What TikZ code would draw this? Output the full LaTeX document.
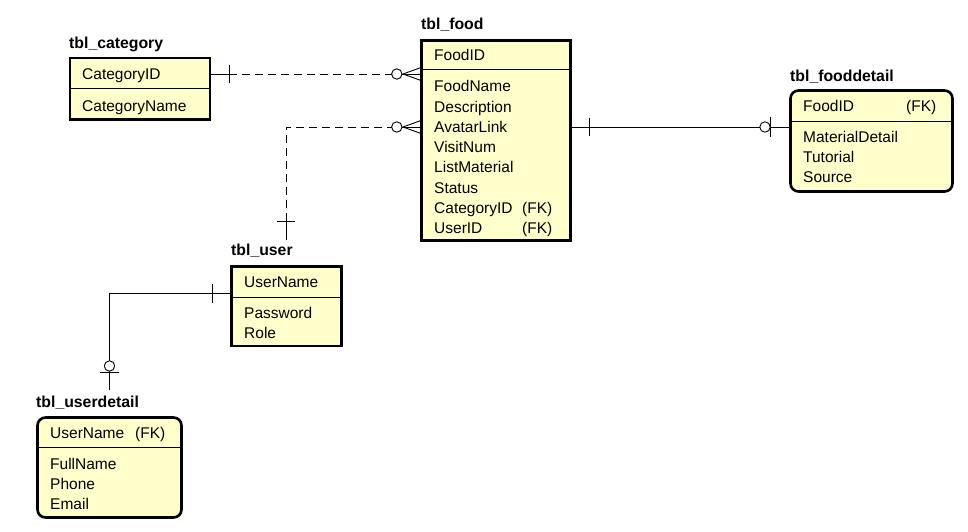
\documentclass[tikz,border=0pt]{standalone}
\usepackage{fontspec}
\setmainfont{Liberation Sans}
\definecolor{tblfill}{RGB}{255,255,204}
\begin{document}
\begin{tikzpicture}[x=1pt,y=-1pt,
  tbox/.style={draw=black, line width=2.6pt, fill=tblfill, rectangle, inner sep=0pt, outer sep=0pt, anchor=north west},
  sep/.style={line width=0.9pt},
  ttl/.style={anchor=base west, inner sep=0pt, font=\fontsize{15.8}{18}\selectfont\bfseries},
  fld/.style={anchor=base west, inner sep=0pt, font=\fontsize{15.5}{18}\selectfont},
  rel/.style={line width=0.9pt},
  dsh/.style={rel, dash pattern=on 8pt off 5pt},
  oring/.style={rel, fill=white},
  ]
\useasboundingbox[fill=white] (0,0) rectangle (968,532);

% ---------- connectors ----------
% category -- food (dashed, one to zero-or-many)
\draw[rel] (210,74) -- (229,74);
\draw[rel] (229,65) -- (229,83);
\draw[dsh] (229,74) -- (391.5,74);
\draw[rel] (402,74) -- (421,74);
\draw[rel] (421,67.5) -- (403,74) -- (421,80.5);
\draw[oring] (396.8,74) circle[radius=5.2pt];

% user -- food (dashed, one to zero-or-many)
\draw[rel] (286,240) -- (286,221);
\draw[rel] (277,221) -- (295,221);
\draw[dsh] (286,221) -- (286,127) -- (391.5,127);
\draw[rel] (402,127) -- (421,127);
\draw[rel] (421,120.5) -- (403,127) -- (421,133.5);
\draw[oring] (396.8,127) circle[radius=5.2pt];

% food -- fooddetail (solid, one to zero-or-one)
\draw[rel] (571,127) -- (790,127);
\draw[rel] (589,118) -- (589,136);
\draw[rel] (770.5,117.5) -- (770.5,136.5);
\draw[oring] (765,127) circle[radius=5.2pt];

% user -- userdetail (solid, one to zero-or-one)
\draw[rel] (231,293.5) -- (109.5,293.5) -- (109.5,390);
\draw[rel] (212,284) -- (212,303);
\draw[rel] (100,372) -- (119,372);
\draw[oring] (109.5,366) circle[radius=5.2pt];

% ---------- tables ----------
% tbl_category
\node[ttl] (catT) at (69,49) {tbl\_category};
\node[tbox, minimum width=140pt, minimum height=61.5pt] (cat) at (70,58) {};
\draw[sep] ([yshift=-30pt]cat.north west) -- ([yshift=-30pt]cat.north east);
\node[fld] (cat1) at (82,80) {CategoryID};
\node[fld] (cat2) at (82,111) {CategoryName};

% tbl_food
\node[ttl] (foodT) at (421,30) {tbl\_food};
\node[tbox, minimum width=149pt, minimum height=200pt] (food) at (421.5,40.5) {};
\draw[sep] ([yshift=-28.5pt]food.north west) -- ([yshift=-28.5pt]food.north east);
\node[fld] (f1) at (434,61) {FoodID};
\node[fld] (f2) at (434,92) {FoodName};
\node[fld] (f3) at (434,112.2) {Description};
\node[fld] (f4) at (434,132.4) {AvatarLink};
\node[fld] (f5) at (434,152.6) {VisitNum};
\node[fld] (f6) at (434,172.8) {ListMaterial};
\node[fld] (f7) at (434,193) {Status};
\node[fld] (f8) at (434,213.2) {CategoryID};
\node[fld] (f8k) at (522,213.2) {(FK)};
\node[fld] (f9) at (434,233.4) {UserID};
\node[fld] (f9k) at (522,233.4) {(FK)};

% tbl_fooddetail
\node[ttl] (fdT) at (790,81.5) {tbl\_fooddetail};
\node[tbox, rounded corners=8pt, minimum width=162pt, minimum height=101pt] (fd) at (790.5,90.5) {};
\draw[sep] ([yshift=-30.5pt]fd.north west) -- ([yshift=-30.5pt]fd.north east);
\node[fld] (fd1) at (803,112) {FoodID};
\node[fld] (fd1k) at (906,112) {(FK)};
\node[fld] (fd2) at (803,142.5) {MaterialDetail};
\node[fld] (fd3) at (803,162.5) {Tutorial};
\node[fld] (fd4) at (803,182.5) {Source};

% tbl_user
\node[ttl] (uT) at (231,255) {tbl\_user};
\node[tbox, minimum width=110pt, minimum height=79.5pt] (user) at (231.5,266.5) {};
\draw[sep] ([yshift=-30.5pt]user.north west) -- ([yshift=-30.5pt]user.north east);
\node[fld] (u1) at (244,287) {UserName};
\node[fld] (u2) at (244,318) {Password};
\node[fld] (u3) at (244,338) {Role};

% tbl_userdetail
\node[ttl] (udT) at (36,407) {tbl\_userdetail};
\node[tbox, rounded corners=8pt, minimum width=144pt, minimum height=100pt] (ud) at (37.5,417.5) {};
\draw[sep] ([yshift=-29.5pt]ud.north west) -- ([yshift=-29.5pt]ud.north east);
\node[fld] (ud1) at (50,438.5) {UserName};
\node[fld] (ud1k) at (135,438.5) {(FK)};
\node[fld] (ud2) at (50,469) {FullName};
\node[fld] (ud3) at (50,489) {Phone};
\node[fld] (ud4) at (50,509) {Email};
\end{tikzpicture}
\end{document}
